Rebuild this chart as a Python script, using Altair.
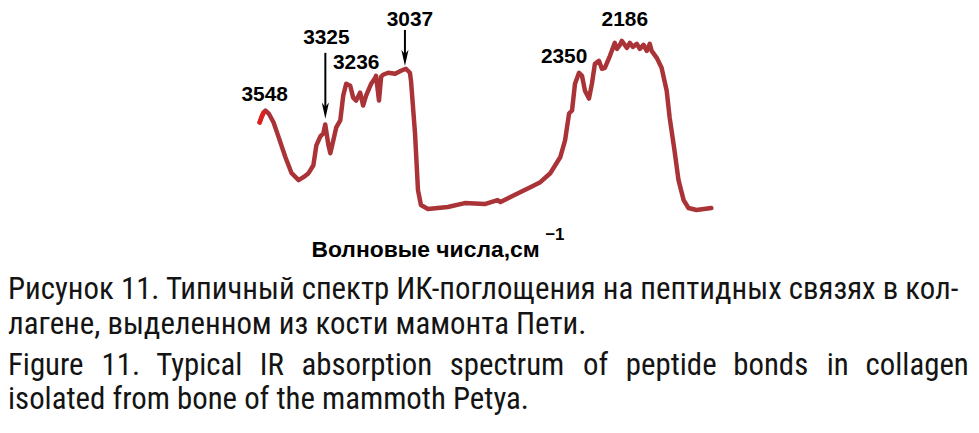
import altair as alt
import pandas as pd

# ---- spectrum data (wavenumber, cm^-1 ; relative absorption, a.u.) ----
wavenumber = [3552, 3544, 3537, 3530, 3518, 3500, 3481, 3456, 3433, 3418, 3407, 3389,
              3370, 3352, 3341, 3326, 3315, 3308, 3296, 3289, 3278, 3267, 3252, 3241,
              3230, 3215, 3204, 3193, 3178, 3167, 3156, 3137, 3122, 3119, 3108, 3100,
              3093, 3074, 3048, 3026, 3008, 2993, 2989, 2974, 2963, 2952, 2926, 2852,
              2789, 2715, 2667, 2656, 2604, 2545, 2508, 2471, 2434, 2416, 2401, 2390,
              2379, 2364, 2353, 2342, 2327, 2316, 2305, 2290, 2279, 2268, 2249, 2231,
              2223, 2212, 2205, 2194, 2186, 2175, 2164, 2149, 2138, 2124, 2112, 2101,
              2094, 2075, 2057, 2038, 2027, 2009, 1994, 1975, 1957, 1927, 1872]
absorption = [88, 94, 98, 100, 97, 88, 73, 53, 37, 33, 30, 33,
              37, 45, 65, 74, 77, 86, 65, 57, 70, 83, 90, 115,
              127, 125, 113, 110, 118, 105, 115, 127, 133, 135, 110, 134,
              136, 138, 137, 140, 142, 138, 130, 77, 20, 5, 1, 3,
              7, 6, 10, 8, 15, 23, 28, 37, 53, 70, 97, 100,
              127, 138, 135, 120, 112, 127, 147, 150, 142, 143, 155, 168,
              162, 166, 170, 166, 163, 168, 164, 167, 162, 166, 160, 167,
              160, 153, 143, 120, 93, 60, 30, 10, 2, 0, 2]
n_red = 3  # first points drawn in bright red

peak_labels = ["3548", "3325", "3236", "3037", "2350", "2186"]
axis_title = "Волновые числа,см"
axis_sup = "\u22121"
caption_ru = ["Рисунок 11. Типичный спектр ИК-поглощения на пептидных связях в кол-",
              "лагене, выделенном из кости мамонта Пети."]
caption_en = ["Figure 11. Typical IR absorption spectrum of peptide bonds in collagen",
              "isolated from bone of the mammoth Petya."]

# ---- layout (pixel positions inside the chart) ----
W, H = 968, 412
label_pos = [(258, 92), (320, 35), (350, 60), (404, 17), (559, 54), (620, 17)]
arrows = [(319, 44, 103), (399, 21, 50)]  # x, y_start, head centre
line3_x = [0, 94, 149, 253, 295, 444, 578, 621, 729, 823, 862]  # justified English line
cap_base = [291, 327, 368, 402]
CAP_FONT = "Roboto Condensed, DejaVu Sans Condensed, sans-serif"
CAP_SIZE = 31

df = pd.DataFrame({"wn": wavenumber, "a": absorption})
df_red = df.iloc[:n_red]

xs = alt.Scale(domain=[906.2, 4487.8], reverse=True, zero=False, nice=False)
ys = alt.Scale(domain=[-210, 202], zero=False, nice=False)

line = alt.Chart(df).transform_window(idx="row_number()").mark_line(
    color="#A93337", strokeWidth=4.5, strokeJoin="round", strokeCap="round").encode(
    x=alt.X("wn:Q", scale=xs, axis=None),
    y=alt.Y("a:Q", scale=ys, axis=None),
    order=alt.Order("idx:Q"))
red = alt.Chart(df_red).mark_line(color="#E0201E", strokeWidth=4.5, strokeCap="round").encode(
    x=alt.X("wn:Q", scale=xs, axis=None), y=alt.Y("a:Q", scale=ys, axis=None))

lab_df = pd.DataFrame({"t": peak_labels, "px": [p[0] for p in label_pos],
                       "py": [p[1] for p in label_pos]})
labels = alt.Chart(lab_df).mark_text(font="Liberation Sans", fontWeight="bold", fontSize=21,
                                     baseline="alphabetic", align="center", color="#000").encode(
    x=alt.X("px:Q", scale=None), y=alt.Y("py:Q", scale=None), text="t:N")

arr_df = pd.DataFrame({"x": [a[0] for a in arrows], "y1": [a[1] for a in arrows],
                       "y2": [a[2] for a in arrows]})
rules = alt.Chart(arr_df).mark_rule(color="#000", strokeWidth=2).encode(
    x=alt.X("x:Q", scale=None), y=alt.Y("y1:Q", scale=None), y2="y2:Q")
heads = alt.Chart(arr_df).mark_point(shape="M-0.4,-1L0,0.8L0.4,-1L0,-0.5Z", size=324,
                                     filled=True, color="#000", opacity=1).encode(
    x=alt.X("x:Q", scale=None), y=alt.Y("y2:Q", scale=None))

title_df = pd.DataFrame({"t": [axis_title], "x": [305], "y": [249]})
title = alt.Chart(title_df).mark_text(font="Liberation Sans", fontWeight="bold", fontSize=23,
                                      align="left", baseline="alphabetic", color="#000").encode(
    x=alt.X("x:Q", scale=None), y=alt.Y("y:Q", scale=None), text="t:N")
sup_df = pd.DataFrame({"t": [axis_sup], "x": [540], "y": [232]})
sup = alt.Chart(sup_df).mark_text(font="Liberation Sans", fontWeight="bold", fontSize=17,
                                  align="left", baseline="alphabetic", color="#000").encode(
    x=alt.X("x:Q", scale=None), y=alt.Y("y:Q", scale=None), text="t:N")

rows = [{"t": caption_ru[0], "x": 0, "y": cap_base[0]},
        {"t": caption_ru[1], "x": 0, "y": cap_base[1]}]
for w, xx in zip(caption_en[0].split(" "), line3_x):
    rows.append({"t": w, "x": xx, "y": cap_base[2]})
rows.append({"t": caption_en[1], "x": 0, "y": cap_base[3]})
cap_df = pd.DataFrame(rows)
caption = alt.Chart(cap_df).mark_text(font=CAP_FONT, fontSize=CAP_SIZE, align="left",
                                      baseline="alphabetic", color="#141414").encode(
    x=alt.X("x:Q", scale=None), y=alt.Y("y:Q", scale=None), text="t:N")

chart = alt.layer(line, red, rules, heads, labels, title, sup, caption).properties(
    width=W, height=H, padding=0, autosize=alt.AutoSizeParams(type="none"),
    background="white").configure_view(stroke=None)

chart.save("out.html", embed_options={"renderer": "svg", "actions": False})
